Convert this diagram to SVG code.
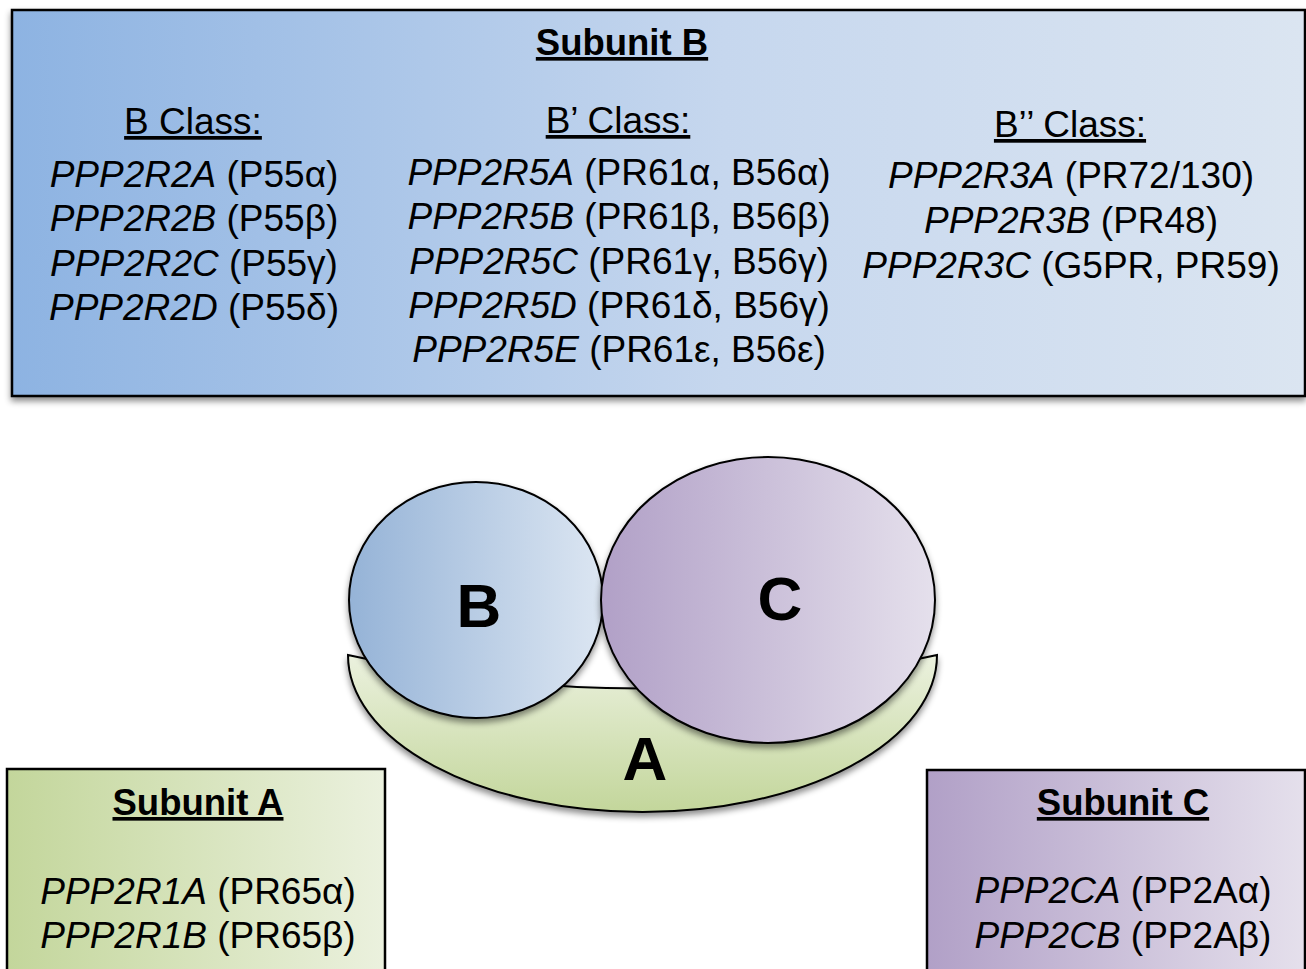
<svg xmlns="http://www.w3.org/2000/svg" width="1306" height="969" viewBox="0 0 1306 969">
<defs>
<linearGradient id="gBlue" x1="0" y1="0" x2="1" y2="0"><stop offset="0" stop-color="#8db3e2"/><stop offset="0.55" stop-color="#c6d7ee"/><stop offset="1" stop-color="#dbe5f1"/></linearGradient>
<linearGradient id="gBlueC" x1="0" y1="0" x2="1" y2="0"><stop offset="0" stop-color="#95b3d7"/><stop offset="1" stop-color="#dce6f2"/></linearGradient>
<linearGradient id="gPurple" x1="0" y1="0" x2="1" y2="0"><stop offset="0" stop-color="#b1a0c7"/><stop offset="1" stop-color="#e5e0ec"/></linearGradient>
<linearGradient id="gGreenV" x1="0" y1="0" x2="0" y2="1"><stop offset="0" stop-color="#ebf1de"/><stop offset="1" stop-color="#c3d69b"/></linearGradient>
<linearGradient id="gGreenH" x1="0" y1="0" x2="1" y2="0"><stop offset="0" stop-color="#c3d69b"/><stop offset="1" stop-color="#ebf1de"/></linearGradient>
<filter id="sh" x="-10%" y="-10%" width="120%" height="130%"><feDropShadow dx="0" dy="4" stdDeviation="3" flood-color="#000" flood-opacity="0.45"/></filter>
<style>
.box{stroke:#000;stroke-width:2.5}
.shape{stroke:#000;stroke-width:2}
text{font-family:"Liberation Sans",Arial,sans-serif;fill:#000;text-anchor:middle}
.t{font-size:37px}
.h{font-size:36.5px;font-weight:bold;text-decoration:underline}
.u{text-decoration:underline}
.big{font-size:62px;font-weight:bold}
.i{font-style:italic}
</style>
</defs>

<g id="subunitB">
<rect class="box" x="12" y="10" width="1293" height="386" fill="url(#gBlue)" filter="url(#sh)"/>
<text class="h" x="622" y="55">Subunit B</text>
<text class="t u" x="193" y="134">B Class:</text>
<text class="t" x="194" y="187"><tspan class="i">PPP2R2A</tspan> (P55α)</text>
<text class="t" x="194" y="231"><tspan class="i">PPP2R2B</tspan> (P55β)</text>
<text class="t" x="194" y="276"><tspan class="i">PPP2R2C</tspan> (P55γ)</text>
<text class="t" x="194" y="320"><tspan class="i">PPP2R2D</tspan> (P55δ)</text>
<text class="t u" x="618" y="133">B’ Class:</text>
<text class="t" x="619" y="185"><tspan class="i">PPP2R5A</tspan> (PR61α, B56α)</text>
<text class="t" x="619" y="229"><tspan class="i">PPP2R5B</tspan> (PR61β, B56β)</text>
<text class="t" x="619" y="274"><tspan class="i">PPP2R5C</tspan> (PR61γ, B56γ)</text>
<text class="t" x="619" y="318"><tspan class="i">PPP2R5D</tspan> (PR61δ, B56γ)</text>
<text class="t" x="619" y="362"><tspan class="i">PPP2R5E</tspan> (PR61ε, B56ε)</text>
<text class="t u" x="1070" y="137">B’’ Class:</text>
<text class="t" x="1071" y="188"><tspan class="i">PPP2R3A</tspan> (PR72/130)</text>
<text class="t" x="1071" y="233"><tspan class="i">PPP2R3B</tspan> (PR48)</text>
<text class="t" x="1071" y="278"><tspan class="i">PPP2R3C</tspan> (G5PR, PR59)</text>
</g>

<g id="shapeA">
<path class="shape" d="M348,655 Q642,722 937,655 A294.5,157 0 0 1 348,655 Z" fill="url(#gGreenV)" filter="url(#sh)"/>
<text class="big" x="645" y="780">A</text>
</g>

<g id="shapeB">
<ellipse class="shape" cx="476" cy="600" rx="127" ry="118" fill="url(#gBlueC)" filter="url(#sh)"/>
<text class="big" x="479" y="627">B</text>
</g>

<g id="shapeC">
<ellipse class="shape" cx="768" cy="600" rx="167" ry="143" fill="url(#gPurple)" filter="url(#sh)"/>
<text class="big" x="780" y="620">C</text>
</g>

<g id="subunitA">
<rect class="box" x="7" y="769" width="378" height="220" fill="url(#gGreenH)"/>
<text class="h" x="198" y="815">Subunit A</text>
<text class="t" x="198" y="904"><tspan class="i">PPP2R1A</tspan> (PR65α)</text>
<text class="t" x="198" y="948"><tspan class="i">PPP2R1B</tspan> (PR65β)</text>
</g>

<g id="subunitC">
<rect class="box" x="927" y="770" width="378" height="220" fill="url(#gPurple)"/>
<text class="h" x="1123" y="815">Subunit C</text>
<text class="t" x="1123" y="903"><tspan class="i">PPP2CA</tspan> (PP2Aα)</text>
<text class="t" x="1123" y="948"><tspan class="i">PPP2CB</tspan> (PP2Aβ)</text>
</g>

<g id="connectors"></g>
</svg>
